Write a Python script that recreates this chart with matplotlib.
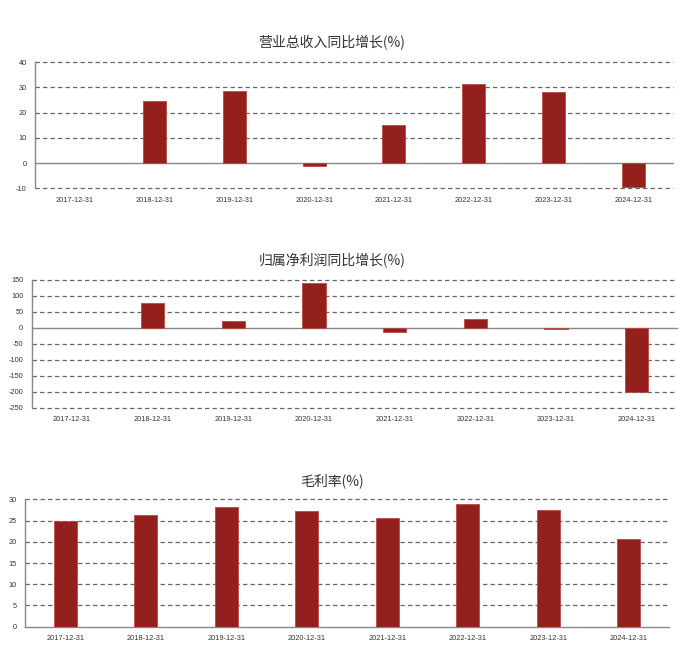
import numpy as np
import matplotlib
matplotlib.use("Agg")
import matplotlib.pyplot as plt

plt.rcParams['font.family'] = ['Noto Sans CJK SC', 'DejaVu Sans']
plt.rcParams['axes.unicode_minus'] = False

dates = ["2017-12-31", "2018-12-31", "2019-12-31", "2020-12-31",
         "2021-12-31", "2022-12-31", "2023-12-31", "2024-12-31"]
revenue_growth = [np.nan, 24.8, 28.6, -1.3, 15.1, 31.3, 28.1, -9.6]
profit_growth = [np.nan, 78, 22, 142, -13.5, 28, -4, -200]
gross_margin = [25.0, 26.3, 28.2, 27.2, 25.6, 28.9, 27.4, 20.7]

titles = ["营业总收入同比增长(%)", "归属净利润同比增长(%)", "毛利率(%)"]
series = [revenue_growth, profit_growth, gross_margin]
ylims = [(-10, 40), (-250, 150), (0, 30)]
yticks = [np.arange(-10, 41, 10), np.arange(-250, 151, 50), np.arange(0, 31, 5)]

W, H = 700, 654
fig = plt.figure(figsize=(W / 100, H / 100), dpi=100)

# pixel boxes: left, right, top(ymax), bottom(ymin)
boxes = [(35, 673, 62.3, 188.3), (31.7, 677, 280, 407.7), (25, 669, 499.3, 626.7)]
title_y = [42.5, 260.5, 480.5]

bar_color = "#93201c"
grid_color = "#666666"
tick_color = "#333333"

for i in range(3):
    l, r, t, b = boxes[i]
    ax = fig.add_axes([l / W, 1 - b / H, (r - l) / W, (b - t) / H])
    x = np.arange(len(dates))
    ax.bar(x, series[i], width=0.29, color=bar_color, edgecolor="#b84a45",
           linewidth=0.6, zorder=3)
    ax.set_xlim(-0.5, len(dates) - 0.5)
    ax.set_ylim(*ylims[i])
    ax.set_yticks(yticks[i])
    ax.set_xticks(x)
    ax.set_xticklabels(dates)
    for yv in yticks[i]:
        if yv == 0:
            continue
        ax.axhline(yv, color=grid_color, linestyle=(0, (3.5, 2.5)), linewidth=0.9,
                   zorder=1, clip_on=False)
    ax.axhline(0, color="#888888", linewidth=1.0, zorder=2, clip_on=False)
    for s in ["top", "right", "bottom"]:
        ax.spines[s].set_visible(False)
    ax.spines["left"].set_color("#888888")
    ax.spines["left"].set_linewidth(1.0)
    ax.tick_params(axis="both", length=0, labelsize=5.3, labelcolor=tick_color)
    ax.tick_params(axis="x", pad=6)
    ax.tick_params(axis="y", pad=6)
    for lab in ax.get_xticklabels() + ax.get_yticklabels():
        lab.set_family(["Liberation Sans", "DejaVu Sans"])
    fig.text(332 / W, 1 - title_y[i] / H, titles[i], ha="center", va="center",
             fontsize=10, color="#333333")

fig.savefig("out.png", dpi=100, facecolor="white")
